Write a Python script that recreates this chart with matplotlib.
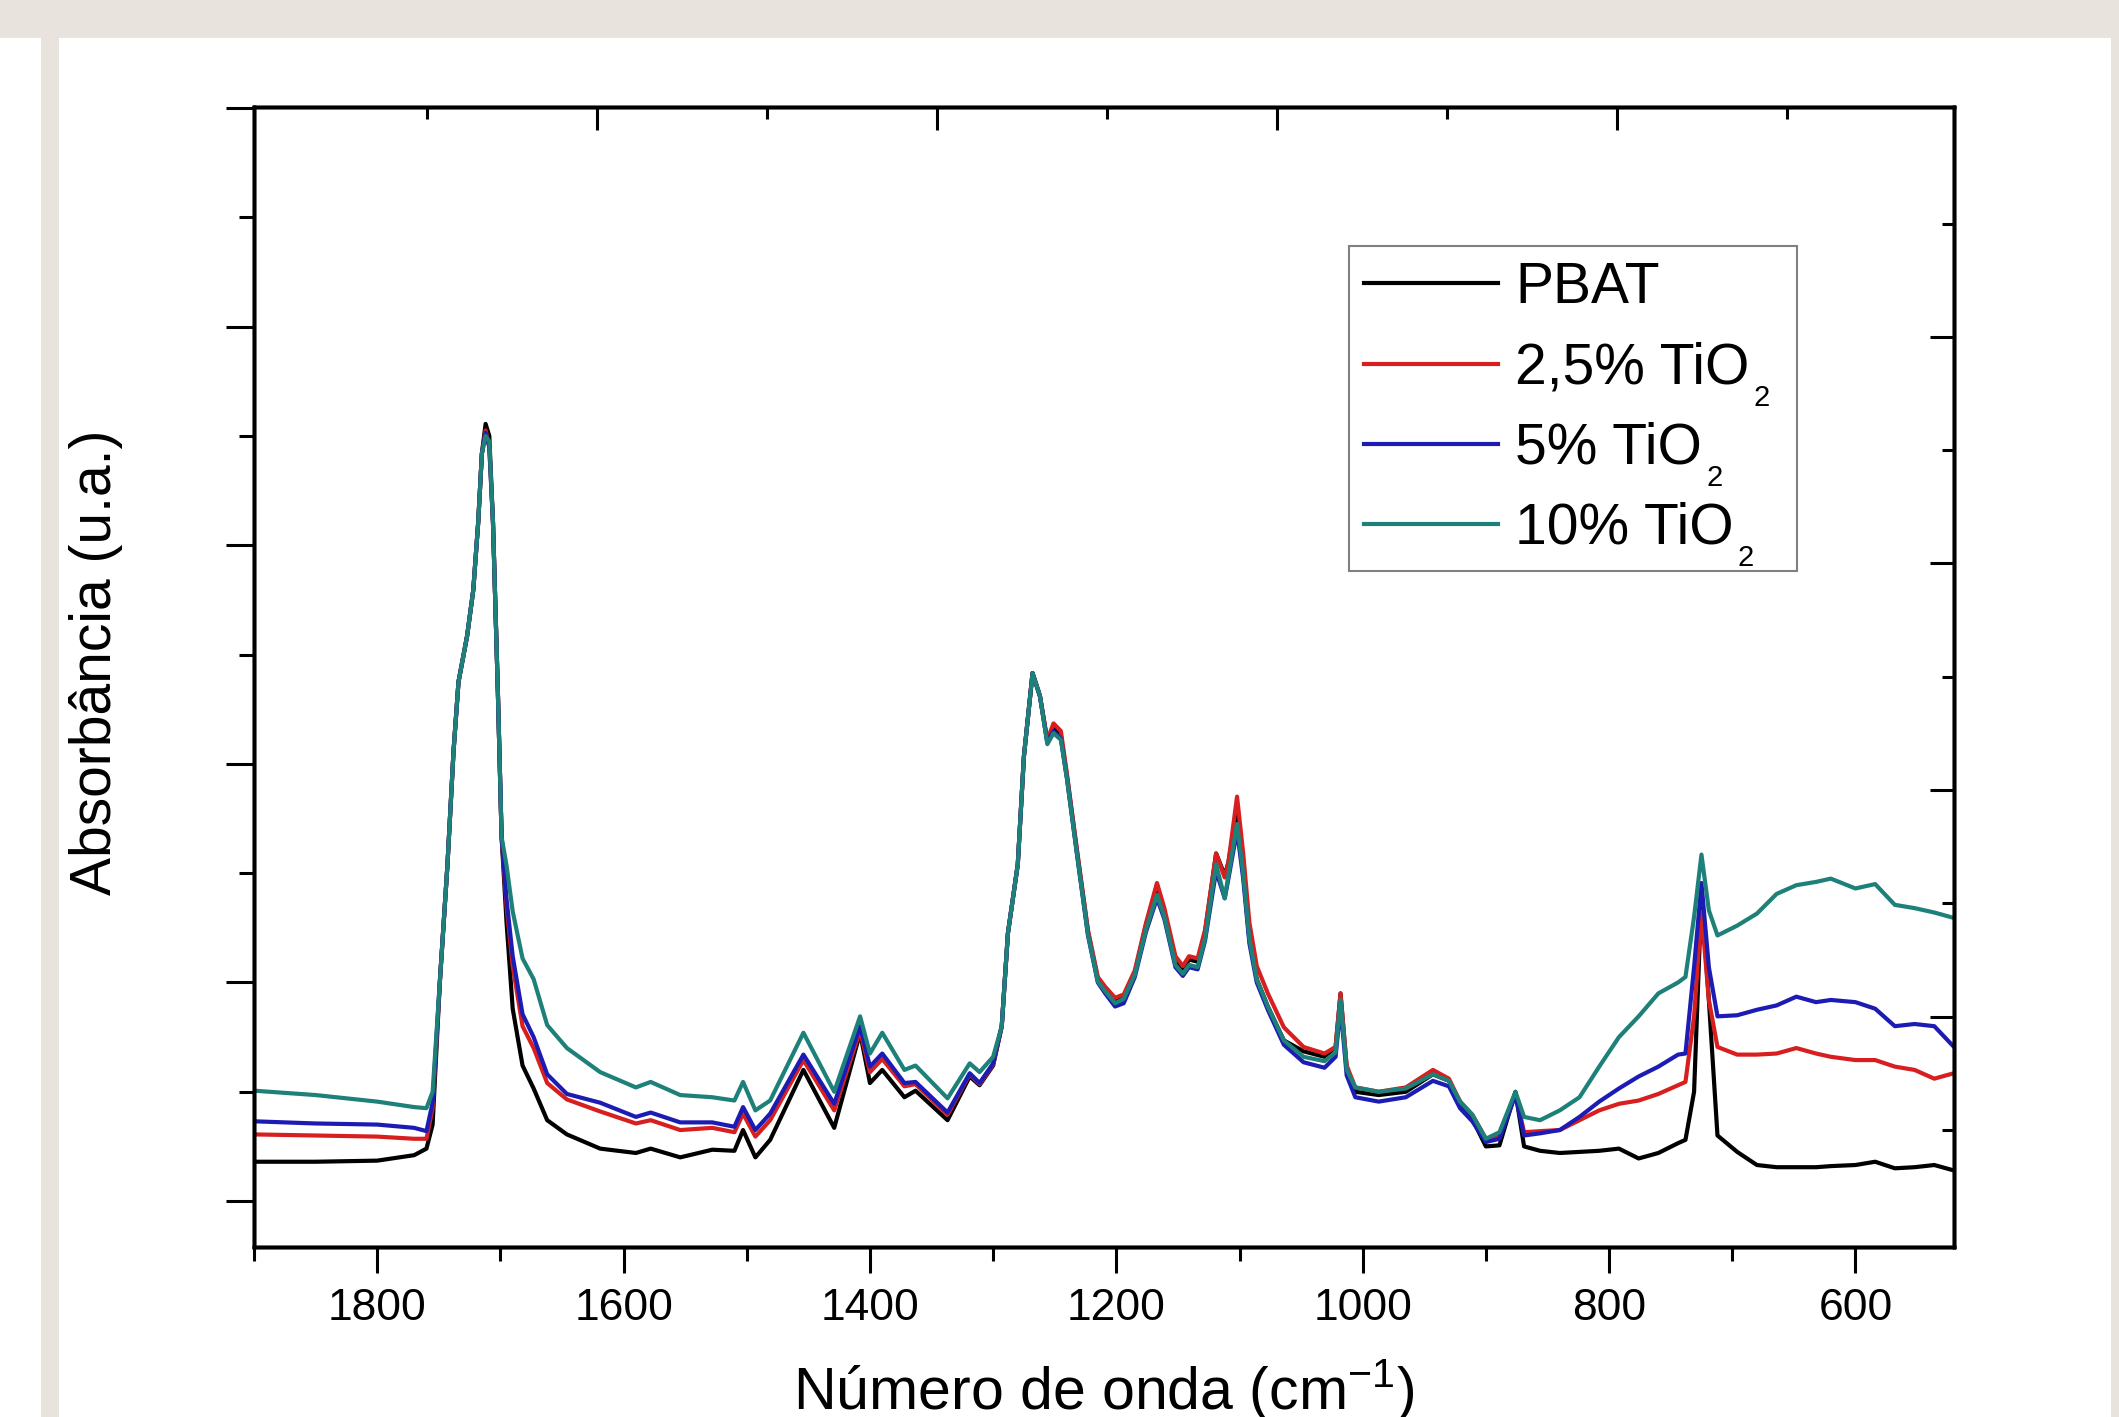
import matplotlib
matplotlib.use('Agg')
import matplotlib.pyplot as plt
from matplotlib.patches import Rectangle
from matplotlib.font_manager import FontProperties

plt.rcParams['font.family'] = ['Liberation Sans', 'DejaVu Sans']
plt.rcParams['mathtext.default'] = 'regular'

# ---------------- data ----------------
wavenumber = [1900, 1850, 1800, 1770, 1760, 1755, 1749, 1743, 1738, 1734, 1727, 1722, 1718, 1715,
              1712, 1709, 1706, 1702, 1699, 1695, 1690, 1682, 1673, 1662, 1646, 1619, 1590, 1578,
              1554, 1528, 1510, 1503, 1493, 1481, 1454, 1429, 1408, 1400, 1390, 1372, 1363, 1337,
              1319, 1311, 1300, 1293, 1288, 1280, 1275, 1268, 1262, 1256, 1251, 1245, 1240, 1232,
              1223, 1215, 1209, 1201, 1194, 1185, 1176, 1167, 1161, 1152, 1146, 1141, 1134, 1128,
              1119, 1112, 1109, 1102, 1097, 1092, 1086, 1077, 1064, 1048, 1031, 1022, 1018, 1013,
              1006, 987, 965, 943, 930, 921, 911, 900, 889, 876, 869, 856, 840, 824, 808, 792, 776,
              760, 744, 738, 731, 725, 719, 712, 696, 680, 664, 648, 632, 620, 600, 584, 568, 552,
              536, 520]

pbat = [0.036, 0.036, 0.037, 0.042, 0.048, 0.070, 0.203, 0.307, 0.412, 0.475, 0.517, 0.559, 0.621, 0.684,
        0.711, 0.700, 0.621, 0.464, 0.333, 0.255, 0.176, 0.124, 0.103, 0.074, 0.061, 0.048, 0.044, 0.048,
        0.040, 0.047, 0.046, 0.065, 0.040, 0.056, 0.120, 0.067, 0.154, 0.108, 0.120, 0.095, 0.101, 0.074,
        0.114, 0.106, 0.124, 0.160, 0.245, 0.308, 0.407, 0.483, 0.462, 0.420, 0.432, 0.425, 0.388, 0.320,
        0.246, 0.203, 0.194, 0.184, 0.187, 0.209, 0.252, 0.289, 0.265, 0.221, 0.211, 0.221, 0.219, 0.246,
        0.318, 0.298, 0.310, 0.357, 0.300, 0.240, 0.203, 0.178, 0.147, 0.137, 0.132, 0.141, 0.190, 0.122,
        0.100, 0.097, 0.100, 0.116, 0.110, 0.091, 0.075, 0.050, 0.051, 0.100, 0.050, 0.046, 0.044, 0.045,
        0.046, 0.048, 0.039, 0.044, 0.053, 0.056, 0.100, 0.280, 0.184, 0.060, 0.045, 0.033, 0.031, 0.031,
        0.031, 0.032, 0.033, 0.036, 0.030, 0.031, 0.033, 0.028]

tio2_2_5 = [0.061, 0.060, 0.059, 0.057, 0.057, 0.085, 0.203, 0.307, 0.412, 0.475, 0.517, 0.559, 0.621, 0.684,
            0.705, 0.690, 0.621, 0.464, 0.333, 0.270, 0.215, 0.160, 0.140, 0.108, 0.093, 0.082, 0.071, 0.074,
            0.065, 0.067, 0.063, 0.080, 0.059, 0.074, 0.129, 0.083, 0.156, 0.118, 0.130, 0.105, 0.107, 0.079,
            0.116, 0.107, 0.125, 0.160, 0.245, 0.308, 0.407, 0.483, 0.462, 0.422, 0.437, 0.430, 0.390, 0.322,
            0.248, 0.205, 0.196, 0.186, 0.189, 0.211, 0.254, 0.291, 0.268, 0.224, 0.215, 0.224, 0.222, 0.248,
            0.318, 0.296, 0.310, 0.370, 0.318, 0.255, 0.215, 0.190, 0.159, 0.141, 0.135, 0.141, 0.190, 0.124,
            0.104, 0.100, 0.104, 0.120, 0.112, 0.091, 0.079, 0.057, 0.060, 0.098, 0.063, 0.064, 0.065, 0.074,
            0.083, 0.089, 0.092, 0.098, 0.106, 0.109, 0.169, 0.265, 0.184, 0.141, 0.134, 0.134, 0.135, 0.140,
            0.135, 0.132, 0.129, 0.129, 0.123, 0.120, 0.112, 0.117]

tio2_5 = [0.073, 0.071, 0.070, 0.067, 0.064, 0.090, 0.203, 0.307, 0.412, 0.475, 0.517, 0.559, 0.621, 0.684,
          0.703, 0.690, 0.621, 0.464, 0.333, 0.276, 0.224, 0.171, 0.150, 0.116, 0.098, 0.090, 0.077, 0.081,
          0.072, 0.072, 0.068, 0.086, 0.065, 0.080, 0.134, 0.089, 0.160, 0.123, 0.135, 0.108, 0.109, 0.081,
          0.117, 0.108, 0.126, 0.160, 0.245, 0.308, 0.407, 0.483, 0.462, 0.420, 0.430, 0.423, 0.386, 0.318,
          0.243, 0.200, 0.190, 0.178, 0.181, 0.205, 0.246, 0.277, 0.258, 0.214, 0.206, 0.214, 0.212, 0.238,
          0.302, 0.277, 0.295, 0.339, 0.295, 0.236, 0.200, 0.175, 0.143, 0.127, 0.122, 0.132, 0.178, 0.115,
          0.095, 0.091, 0.095, 0.110, 0.105, 0.085, 0.073, 0.054, 0.057, 0.097, 0.060, 0.062, 0.065, 0.077,
          0.091, 0.103, 0.114, 0.123, 0.134, 0.135, 0.214, 0.291, 0.214, 0.169, 0.170, 0.175, 0.179, 0.187,
          0.182, 0.184, 0.182, 0.176, 0.160, 0.162, 0.160, 0.141]

tio2_10 = [0.101, 0.097, 0.091, 0.086, 0.085, 0.100, 0.203, 0.307, 0.412, 0.475, 0.517, 0.559, 0.621, 0.684,
           0.700, 0.695, 0.621, 0.464, 0.333, 0.307, 0.265, 0.222, 0.203, 0.161, 0.140, 0.118, 0.104, 0.109,
           0.097, 0.095, 0.092, 0.109, 0.083, 0.092, 0.154, 0.100, 0.169, 0.135, 0.154, 0.120, 0.124, 0.094,
           0.126, 0.118, 0.132, 0.160, 0.245, 0.308, 0.407, 0.483, 0.462, 0.418, 0.428, 0.422, 0.386, 0.318,
           0.244, 0.201, 0.192, 0.181, 0.185, 0.207, 0.248, 0.280, 0.260, 0.216, 0.208, 0.216, 0.214, 0.240,
           0.308, 0.277, 0.298, 0.345, 0.300, 0.240, 0.203, 0.178, 0.147, 0.132, 0.128, 0.136, 0.184, 0.120,
           0.104, 0.100, 0.103, 0.116, 0.110, 0.091, 0.079, 0.057, 0.063, 0.100, 0.077, 0.074, 0.083, 0.095,
           0.123, 0.150, 0.169, 0.190, 0.200, 0.205, 0.260, 0.317, 0.266, 0.243, 0.252, 0.263, 0.281, 0.289,
           0.292, 0.295, 0.286, 0.290, 0.271, 0.268, 0.264, 0.259]

# legend labels: main text + subscript (drawn low, Origin style)
series_labels = ['PBAT', '2,5% TiO', '5% TiO', '10% TiO']
series_subscripts = ['', '2', '2', '2']
series_colors = ['#000000', '#d81f1f', '#1c1cb4', '#1d8079']

x_major_ticks = [1800, 1600, 1400, 1200, 1000, 800, 600]
x_minor_ticks = [1900, 1700, 1500, 1300, 1100, 900, 700]
x_tick_labels = ['1800', '1600', '1400', '1200', '1000', '800', '600']

x_label = 'Número de onda (cm$^{-1}$)'
y_label = 'Absorbância (u.a.)'

# ---------------- figure ----------------
W, H = 2119, 1417
fig = plt.figure(figsize=(W / 100, H / 100), dpi=100)
fig.patch.set_facecolor('white')

beige = '#e8e4dd'
fig.patches.append(Rectangle((0, 1 - 38 / H), 1, 38 / H, transform=fig.transFigure,
                             facecolor=beige, edgecolor='none', zorder=0))
fig.patches.append(Rectangle((41 / W, 0), 18 / W, 1 - 38 / H, transform=fig.transFigure,
                             facecolor=beige, edgecolor='none', zorder=0))
fig.patches.append(Rectangle((2111 / W, 0), 8 / W, 1 - 38 / H, transform=fig.transFigure,
                             facecolor=beige, edgecolor='none', zorder=0))

ax = fig.add_axes([254 / W, 170 / H, 1700 / W, 1140 / H])
ax.set_facecolor('white')

handles = []
for vals, col in zip([pbat, tio2_2_5, tio2_5, tio2_10], series_colors):
    ln, = ax.plot(wavenumber, vals, color=col, lw=3.0, solid_joinstyle='round')
    handles.append(ln)

ax.set_xlim(1900, 520)
ax.set_ylim(-0.042, 1.0009)

ax.set_xticks(x_major_ticks)
ax.set_xticklabels(x_tick_labels)
ax.set_xticks(x_minor_ticks, minor=True)
ax.set_yticks([0.0, 0.2, 0.4, 0.6, 0.8, 1.0])
ax.set_yticks([0.1, 0.3, 0.5, 0.7, 0.9], minor=True)
ax.tick_params(axis='x', which='major', direction='out', length=18.7, width=2.2,
               labelsize=32, pad=11, top=False)
ax.tick_params(axis='x', which='minor', direction='out', length=10, width=2.2, top=False)
ax.tick_params(axis='y', which='major', direction='out', length=20, width=2.2,
               labelleft=False, right=False)
ax.tick_params(axis='y', which='minor', direction='out', length=11, width=2.2, right=False)

for sp in ax.spines.values():
    sp.set_linewidth(2.5)

# top axis (independent ticks, inward)
ax_top = ax.twiny()
ax_top.set_xlim(-1.018, 8.982)
ax_top.set_xticks([1, 3, 5, 7])
ax_top.set_xticks([0, 2, 4, 6, 8], minor=True)
ax_top.tick_params(axis='x', which='major', direction='in', length=16.5, width=2.2, labeltop=False)
ax_top.tick_params(axis='x', which='minor', direction='in', length=8.6, width=2.2)
for sp in ax_top.spines.values():
    sp.set_linewidth(2.5)

# right axis (independent ticks, inward)
ax_right = ax.twinx()
ax_right.set_ylim(-1.033, 9.029)
ax_right.set_yticks([1, 3, 5, 7])
ax_right.set_yticks([0, 2, 4, 6, 8], minor=True)
ax_right.tick_params(axis='y', which='major', direction='in', length=17, width=2.2, labelright=False)
ax_right.tick_params(axis='y', which='minor', direction='in', length=8.6, width=2.2)
for sp in ax_right.spines.values():
    sp.set_linewidth(2.5)

LEG_FS = 41
SUB_FS = 21
leg_labels = [lab + ('  ' if sub else '') for lab, sub in zip(series_labels, series_subscripts)]
leg = ax_right.legend(handles, leg_labels,
                      loc='upper left', bbox_to_anchor=(1349 / W, 1 - 246 / H),
                      bbox_transform=fig.transFigure, borderaxespad=0,
                      fontsize=LEG_FS, frameon=True, fancybox=False, framealpha=1,
                      edgecolor='#808080', handlelength=2.35, handletextpad=0.3,
                      borderpad=0.27, labelspacing=0.46)
leg.get_frame().set_linewidth(1.5)
for ln in leg.get_lines():
    ln.set_linewidth(3.0)

# subscripts placed just after "TiO", below the text baseline
fig.canvas.draw()
renderer = fig.canvas.get_renderer()
prop = FontProperties(family=['Liberation Sans', 'DejaVu Sans'], size=LEG_FS)
_, _, lp_d = renderer.get_text_width_height_descent('lp', prop, ismath=False)
for txt, lab, sub in zip(leg.get_texts(), series_labels, series_subscripts):
    if sub:
        bb = txt.get_window_extent(renderer)
        w_base, _, _ = renderer.get_text_width_height_descent(lab, prop, ismath=False)
        x_px = bb.x0 + w_base + 4
        y_px = bb.y0 + lp_d - 22
        fig.text(x_px / W, y_px / H, sub, fontsize=SUB_FS, ha='left', va='baseline', zorder=10)

fig.text(1104 / W, 1 - 1410 / H, x_label, ha='center', va='baseline', fontsize=42.5)
fig.text(96 / W, 1 - 662 / H, y_label, ha='center', va='center', rotation=90, fontsize=41)

fig.savefig('out.png', dpi=100, facecolor=fig.get_facecolor())
